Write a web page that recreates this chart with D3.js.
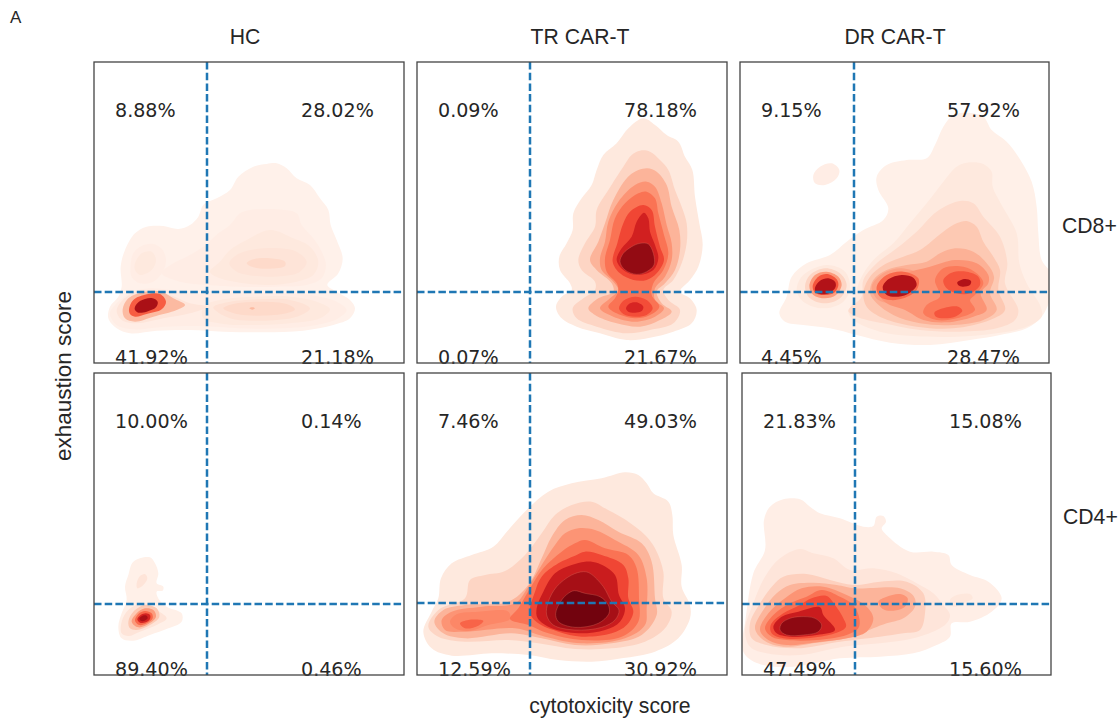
<!DOCTYPE html>
<html>
<head>
<meta charset="utf-8">
<script src="https://cdn.jsdelivr.net/npm/d3@7"></script>
<style>
  html, body { margin: 0; padding: 0; background: #fff; }
  svg { display: block; }
  text { fill: #262626; }
  .pct { font-family: "DejaVu Sans"; font-size: 19.1px; }
  .title { font-family: "Liberation Sans"; font-size: 21.2px; }
</style>
</head>
<body>
<div id="chart"></div>
<script>
const width = 1120;
const height = 721;

const columns = ['HC', 'TR CAR-T', 'DR CAR-T'];
const rows = ['CD8+', 'CD4+'];
const xLabel = 'cytotoxicity score';
const yLabel = 'exhaustion score';

// quadrant percentages: upper left, upper right, lower left, lower right
const hcCd8Pct = ['8.88%', '28.02%', '41.92%', '21.18%'];
const trCd8Pct = ['0.09%', '78.18%', '0.07%', '21.67%'];
const drCd8Pct = ['9.15%', '57.92%', '4.45%', '28.47%'];
const hcCd4Pct = ['10.00%', '0.14%', '89.40%', '0.46%'];
const trCd4Pct = ['7.46%', '49.03%', '12.59%', '30.92%'];
const drCd4Pct = ['21.83%', '15.08%', '47.49%', '15.60%'];

// density outlines: [Reds level, [[score x, score y], ...]]
const hcCd8Density = [
  [.04, [[560,40],[590,55],[620,85],[660,105],[690,145],[715,180],[722,225],[740,270],[758,325],[745,370],[712,405],[740,425],[780,450],[795,475],[780,505],[730,525],[640,542],[520,547],[400,545],[300,540],[200,542],[120,550],[80,535],[55,505],[60,470],[85,440],[95,410],[92,350],[105,300],[135,250],[170,230],[220,228],[265,237],[300,225],[325,200],[340,165],[380,145],[420,120],[445,80],[490,50],[530,42]]],
  [.07, [[450,190],[480,180],[560,178],[620,190],[635,225],[670,265],[695,305],[708,345],[695,385],[650,405],[560,410],[450,410],[350,405],[270,395],[215,370],[250,340],[290,320],[340,290],[385,250],[420,225]]],
  [.07, [[122,345],[130,310],[155,288],[190,282],[218,300],[228,335],[215,370],[190,395],[150,400],[125,380]]],
  [.07, [[60,490],[90,450],[130,425],[180,415],[240,420],[330,432],[450,428],[560,428],[660,435],[740,455],[770,480],[745,505],[680,525],[580,535],[450,535],[330,528],[220,530],[130,538],[80,525]]],
  [.1, [[360,365],[390,335],[420,300],[470,270],[540,240],[610,265],[660,290],[685,335],[670,375],[620,395],[540,405],[450,398],[390,385]]],
  [.1, [[135,340],[155,310],[185,305],[198,330],[185,360],[150,375],[135,360]]],
  [.1, [[340,470],[400,448],[500,440],[600,440],[680,455],[720,478],[690,505],[600,520],[500,525],[400,522],[340,505]]],
  [.12, [[80,480],[110,440],[170,420],[240,435],[300,460],[350,470],[300,490],[220,505],[140,520],[95,510]]],
  [.13, [[418,340],[440,315],[500,297],[570,295],[620,305],[650,335],[630,365],[580,378],[500,378],[440,365]]],
  [.14, [[370,472],[420,455],[510,448],[600,450],[660,475],[620,500],[510,512],[420,505]]],
  [.18, [[470,340],[490,328],[540,325],[585,335],[585,348],[540,356],[490,352]]],
  [.18, [[400,475],[440,460],[520,455],[590,462],[615,478],[590,490],[510,497],[440,492]]],
  [.3, [[478,475],[487,472],[495,475],[487,479]]],
  [.3, [[98,478],[115,445],[165,425],[215,425],[250,445],[285,465],[260,480],[190,500],[135,515],[105,505]]],
  [.58, [[117,478],[130,450],[170,433],[210,432],[228,455],[215,478],[170,492],[135,500],[120,492]]],
  [.87, [[135,470],[150,453],[185,444],[203,455],[198,472],[170,485],[145,488],[135,480]]]
];

const trCd8Density = [
  [.1, [[310,25],[345,45],[380,75],[415,95],[435,140],[457,180],[465,260],[478,340],[488,405],[475,470],[450,510],[420,545],[450,565],[470,600],[455,640],[400,665],[330,683],[260,690],[180,670],[110,650],[65,625],[48,590],[65,560],[95,540],[90,520],[60,480],[58,440],[80,400],[98,360],[100,310],[125,265],[155,225],[170,180],[190,135],[230,100],[265,55]]],
  [.2, [[300,122],[330,125],[360,150],[385,180],[405,240],[425,290],[440,340],[440,400],[425,460],[400,510],[370,540],[385,570],[420,600],[400,640],[330,660],[260,670],[170,650],[110,625],[98,595],[130,565],[165,540],[165,515],[125,480],[115,450],[135,400],[165,350],[170,300],[205,240],[250,170],[275,135]]],
  [.32, [[320,175],[350,185],[380,225],[395,290],[418,360],[420,420],[405,480],[375,520],[350,545],[365,580],[395,605],[360,630],[300,650],[230,640],[165,615],[145,595],[175,565],[220,545],[215,520],[170,480],[150,450],[175,395],[195,340],[220,270],[270,195]]],
  [.42, [[320,215],[345,230],[365,280],[380,345],[395,400],[395,450],[375,500],[345,535],[345,570],[372,595],[345,620],[285,635],[220,620],[180,595],[210,565],[235,540],[220,515],[185,480],[180,445],[195,395],[205,335],[235,275],[285,225]]],
  [.52, [[320,245],[345,265],[355,310],[372,375],[385,430],[370,480],[340,520],[335,555],[358,590],[330,615],[285,625],[230,610],[205,590],[225,565],[235,540],[230,520],[200,485],[195,445],[210,390],[225,325],[255,280],[295,250]]],
  [.62, [[237,595],[250,572],[285,560],[320,570],[338,595],[320,615],[285,620],[250,612]]],
  [.64, [[310,285],[335,300],[345,350],[360,410],[372,450],[350,490],[320,510],[280,510],[240,490],[218,455],[232,400],[250,340],[270,305]]],
  [.74, [[258,595],[270,580],[290,577],[310,590],[305,603],[285,608],[265,605]]],
  [.76, [[312,308],[325,325],[330,365],[345,405],[355,445],[340,480],[290,495],[250,480],[230,450],[245,415],[275,380],[290,335]]],
  [.92, [[300,400],[325,402],[340,430],[342,465],[320,485],[290,493],[255,480],[240,455],[250,430],[275,410]]]
];

const drCd8Density = [
  [.05, [[590,-22],[640,-10],[665,30],[710,65],[745,110],[785,185],[800,260],[805,340],[815,420],[845,460],[860,500],[845,530],[815,590],[770,625],[690,645],[600,660],[480,675],[360,668],[260,645],[180,625],[100,615],[45,605],[28,580],[50,530],[65,470],[110,430],[180,405],[230,365],[280,330],[340,300],[355,265],[325,210],[320,170],[350,135],[410,120],[470,115],[495,75],[520,20],[550,-15]]],
  [.07, [[130,165],[150,140],[185,130],[208,150],[200,175],[165,195],[135,190]]],
  [.1, [[600,127],[640,132],[665,155],[668,200],[695,255],[740,340],[748,430],[770,490],[812,560],[815,590],[770,620],[680,640],[560,650],[430,648],[330,635],[250,600],[235,575],[250,545],[270,480],[310,420],[370,370],[420,310],[470,250],[520,185],[560,140]]],
  [.1, [[80,510],[100,465],[170,435],[225,455],[240,500],[220,545],[160,565],[100,545]]],
  [.17, [[570,243],[610,250],[640,290],[690,350],[712,430],[705,490],[745,570],[735,600],[680,625],[570,635],[450,630],[340,610],[260,590],[235,572],[275,530],[280,480],[320,430],[380,385],[440,335],[500,275]]],
  [.2, [[105,500],[120,465],[165,445],[210,460],[230,495],[210,535],[165,550],[120,535]]],
  [.25, [[590,303],[620,320],[640,365],[670,410],[690,450],[685,510],[705,570],[660,600],[550,625],[440,620],[340,595],[290,560],[280,520],[300,470],[350,430],[400,410],[450,390],[520,335],[560,310]]],
  [.33, [[555,385],[610,395],[650,430],[672,470],[660,520],[680,570],[640,600],[550,615],[450,610],[370,585],[320,550],[300,520],[310,480],[350,450],[410,435],[470,425],[510,400]]],
  [.38, [[305,500],[340,460],[395,445],[450,465],[455,495],[420,530],[370,548],[325,540]]],
  [.4, [[118,498],[135,465],[170,455],[205,470],[215,495],[198,525],[165,535],[130,525]]],
  [.42, [[555,420],[620,430],[655,465],[655,490],[632,520],[650,570],[610,590],[530,607],[460,600],[405,570],[350,550],[330,525],[350,480],[400,460],[480,440]]],
  [.5, [[520,445],[580,440],[620,460],[640,490],[615,525],[600,540],[615,570],[560,595],[500,600],[460,580],[470,555],[510,530],[505,510],[495,480]]],
  [.55, [[320,500],[350,465],[400,455],[445,475],[440,510],[400,535],[360,540],[330,530]]],
  [.6, [[128,498],[145,470],[172,462],[200,478],[205,497],[190,520],[160,525],[135,518]]],
  [.6, [[520,480],[545,458],[590,455],[625,470],[630,495],[600,520],[560,520],[530,505]]],
  [.6, [[493,578],[530,562],[565,560],[577,572],[555,590],[520,595],[498,590]]],
  [.33, [[438,548],[465,525],[490,525],[480,540],[455,553],[440,553]]],
  [.85, [[562,487],[585,477],[603,483],[600,495],[578,500],[565,496]]],
  [.85, [[338,502],[355,478],[395,465],[430,473],[440,495],[420,518],[385,530],[350,525]]],
  [.85, [[135,503],[150,482],[175,475],[195,485],[197,500],[180,518],[150,522],[137,515]]]
];

const hcCd4Density = [
  [.05, [[150,22],[165,40],[175,70],[170,100],[190,110],[188,122],[170,125],[178,150],[200,170],[245,190],[245,215],[205,235],[150,255],[100,272],[65,265],[55,230],[65,190],[80,150],[75,110],[85,75],[100,35]]],
  [.13, [[120,78],[135,72],[142,85],[130,105],[112,115],[110,100]]],
  [.13, [[65,250],[65,215],[85,180],[130,160],[170,180],[200,205],[170,225],[120,245],[85,258]]],
  [.25, [[85,215],[100,185],[135,165],[170,175],[178,200],[150,225],[110,240],[90,235]]],
  [.4, [[95,215],[110,190],[135,175],[160,180],[168,200],[145,222],[115,232]]],
  [.55, [[105,212],[115,192],[135,183],[155,190],[158,205],[140,220],[118,225]]],
  [.75, [[112,208],[122,195],[138,190],[150,195],[150,207],[137,217],[120,218]]],
  [.87, [[118,205],[128,197],[140,197],[143,205],[132,213],[122,212]]]
];

const trCd4Density = [
  [.1, [[630,22],[670,30],[695,55],[715,85],[760,110],[772,150],[775,210],[800,300],[800,365],[825,420],[825,460],[790,520],[720,560],[620,580],[530,590],[430,585],[340,570],[230,565],[110,572],[50,550],[25,500],[50,440],[70,400],[78,340],[110,295],[170,270],[235,245],[280,195],[340,130],[400,80],[470,55],[560,40]]],
  [.2, [[530,110],[570,130],[640,170],[690,210],[720,250],[745,320],[745,400],[770,440],[750,490],[690,530],[590,550],[480,552],[370,535],[280,525],[150,530],[70,515],[40,485],[70,435],[150,400],[165,345],[210,330],[270,318],[330,270],[380,205],[420,150],[470,120]]],
  [.32, [[500,150],[550,165],[610,200],[680,235],[710,290],[720,400],[725,450],[680,510],[590,535],[480,540],[380,520],[290,505],[150,520],[85,505],[58,470],[85,435],[150,420],[280,410],[340,360],[380,280],[410,215],[450,165]]],
  [.42, [[490,190],[540,195],[600,225],[670,270],[695,340],[695,430],[690,480],[630,520],[500,535],[390,515],[300,490],[150,500],[90,495],[80,465],[110,440],[200,425],[300,415],[340,365],[380,300],[420,240],[450,205]]],
  [.46, [[105,470],[125,448],[190,440],[280,440],[285,462],[220,480],[160,498],[120,490]]],
  [.52, [[510,225],[570,250],[640,270],[665,310],[672,400],[670,470],[620,515],[500,525],[400,505],[340,480],[285,462],[310,430],[345,370],[385,310],[440,260],[480,235]]],
  [.56, [[135,475],[160,465],[205,468],[190,482],[150,490]]],
  [.64, [[510,260],[560,270],[625,300],[640,340],[640,400],[655,440],[635,480],[590,505],[500,515],[430,500],[370,475],[345,445],[360,380],[380,335],[430,295],[480,272]]],
  [.78, [[510,290],[550,295],[600,330],[612,390],[630,430],[615,470],[570,495],[490,505],[410,490],[368,460],[365,430],[385,380],[420,325],[470,300]]],
  [.88, [[505,320],[525,325],[565,365],[590,410],[612,435],[600,465],[560,487],[480,495],[415,480],[395,450],[400,410],[425,365],[470,330]]],
  [.98, [[478,377],[510,385],[555,395],[580,420],[582,445],[550,475],[480,487],[430,470],[422,445],[440,405],[460,385]]]
];

const drCd4Density = [
  [.06, [[130,28],[180,28],[210,50],[240,70],[300,85],[370,110],[400,108],[410,80],[430,78],[438,95],[425,115],[445,140],[510,185],[580,185],[625,195],[635,225],[690,255],[745,275],[785,325],[755,365],[690,395],[635,400],[630,440],[590,465],[520,490],[420,500],[300,505],[160,530],[70,525],[20,500],[6,470],[15,400],[40,250],[75,180],[72,90],[90,50]]],
  [.12, [[180,177],[220,190],[280,205],[330,240],[400,235],[470,250],[530,280],[580,310],[610,345],[630,375],[620,400],[590,420],[520,445],[420,460],[310,470],[180,495],[80,490],[30,470],[15,420],[40,340],[75,260],[120,205]]],
  [.11, [[630,330],[650,315],[690,312],[698,325],[670,340],[640,350]]],
  [.22, [[130,260],[200,252],[270,270],[340,285],[420,275],[500,275],[550,310],[555,370],[540,420],[490,430],[420,440],[300,455],[170,475],[80,465],[35,445],[30,400],[60,340],[100,285]]],
  [.32, [[150,285],[220,278],[290,285],[345,295],[480,295],[522,320],[525,350],[490,385],[440,400],[400,415],[340,440],[230,458],[130,470],[70,450],[45,415],[70,360],[110,310]]],
  [.42, [[185,295],[250,290],[320,315],[380,350],[400,385],[380,425],[320,445],[220,458],[140,465],[85,450],[60,420],[85,370],[135,325]]],
  [.42, [[415,335],[440,320],[480,312],[503,325],[495,350],[460,362],[430,358]]],
  [.52, [[200,320],[245,300],[300,320],[340,345],[358,385],[355,415],[320,435],[230,450],[140,450],[95,440],[75,415],[100,375],[150,340]]],
  [.62, [[215,325],[260,318],[285,345],[310,385],[318,410],[285,430],[200,445],[130,445],[95,430],[92,405],[130,370],[180,345]]],
  [.78, [[240,352],[250,375],[285,420],[230,435],[150,440],[110,430],[100,410],[125,380],[175,365]]],
  [.93, [[180,380],[225,385],[245,405],[235,425],[190,435],[140,435],[120,420],[125,400],[150,385]]]
];

// layout of each panel: frame, where the quadrant lines sit, the score window
const panels = [
  { density: hcCd8Density, pct: hcCd8Pct, frame: [94, 62, 404, 363], cross: [207, 292], win: [90, 150, 320, 220] },
  { density: trCd8Density, pct: trCd8Pct, frame: [417, 62, 727, 363], cross: [530, 292], win: [540, 110, 180, 240] },
  { density: drCd8Density, pct: drCd8Pct, frame: [740, 62, 1049, 363], cross: [854, 292], win: [770, 120, 285, 230] },
  { density: hcCd4Density, pct: hcCd4Pct, frame: [94, 373, 404, 675], cross: [207, 604], win: [100, 550, 100, 100] },
  { density: trCd4Density, pct: trCd4Pct, frame: [417, 373, 727, 675], cross: [530, 603], win: [415, 465, 290, 210] },
  { density: drCd4Density, pct: drCd4Pct, frame: [742, 373, 1051, 675], cross: [855, 604], win: [740, 490, 260, 185] }
];

const svg = d3.select('#chart')
  .append('svg')
  .attr('width', width)
  .attr('height', height);

const defs = svg.append('defs');

const outline = d3.line().curve(d3.curveCatmullRomClosed.alpha(0.5));

// Reds, with the pale end stretched a little
const levelColor = d3.scalePow().exponent(1.15).domain([0, 1]).range([0, 1]);

panels.forEach((p, i) => {
  const [x0, y0, x1, y1] = p.frame;
  const [wx, wy, ww, wh] = p.win;

  const x = d3.scaleLinear().domain([0, ww * 3]).range([wx, wx + ww]);
  const y = d3.scaleLinear().domain([0, wh * 3]).range([wy, wy + wh]);

  defs.append('clipPath')
    .attr('id', `clip-${i}`)
    .append('rect')
    .attr('x', x0)
    .attr('y', y0)
    .attr('width', x1 - x0)
    .attr('height', y1 - y0);

  const g = svg.append('g');

  // Filled density levels, light to dark
  g.append('g')
    .attr('clip-path', `url(#clip-${i})`)
    .selectAll('path')
    .data(p.density.slice().sort((a, b) => d3.ascending(a[0], b[0])))
    .join('path')
    .attr('fill', d => d3.interpolateReds(levelColor(d[0])))
    .attr('stroke', d => d[0] >= 0.88 ? '#d9705f' : 'none')
    .attr('stroke-width', 0.5)
    .attr('stroke-opacity', 0.7)
    .attr('d', d => outline(d[1].map(q => [x(q[0]), y(q[1])])));

  // Quadrant lines
  g.append('line')
    .attr('x1', p.cross[0]).attr('x2', p.cross[0])
    .attr('y1', y0).attr('y2', y1)
    .attr('stroke', '#1f77b4')
    .attr('stroke-width', 2.5)
    .attr('stroke-dasharray', '7.5,3.2');

  g.append('line')
    .attr('x1', x0).attr('x2', x1)
    .attr('y1', p.cross[1]).attr('y2', p.cross[1])
    .attr('stroke', '#1f77b4')
    .attr('stroke-width', 2.5)
    .attr('stroke-dasharray', '7.5,3.2');

  // Percent labels
  const leftX = x0 + 21;
  const rightX = x0 + 207;
  const topY = y0 + 55;
  const bottomY = y1 + 0.5;
  const spots = [[leftX, topY], [rightX, topY], [leftX, bottomY], [rightX, bottomY]];
  g.selectAll('text.pct')
    .data(p.pct)
    .join('text')
    .attr('class', 'pct')
    .attr('x', (d, j) => spots[j][0])
    .attr('y', (d, j) => spots[j][1])
    .text(d => d);

  g.append('rect')
    .attr('x', x0)
    .attr('y', y0)
    .attr('width', x1 - x0)
    .attr('height', y1 - y0)
    .attr('fill', 'none')
    .attr('stroke', '#444')
    .attr('stroke-width', 1.3);
});

// Column and row titles
const columnCenters = [245, 580, 895];
svg.selectAll('text.col')
  .data(columns)
  .join('text')
  .attr('class', 'title col')
  .attr('x', (d, i) => columnCenters[i])
  .attr('y', 44)
  .attr('text-anchor', 'middle')
  .text(d => d);

const rowSpots = [[1062, 233], [1063, 524]];
svg.selectAll('text.rowname')
  .data(rows)
  .join('text')
  .attr('class', 'title rowname')
  .attr('x', (d, i) => rowSpots[i][0])
  .attr('y', (d, i) => rowSpots[i][1])
  .text(d => d);

svg.append('text')
  .attr('class', 'title')
  .attr('x', 610)
  .attr('y', 713)
  .attr('text-anchor', 'middle')
  .text(xLabel);

svg.append('text')
  .attr('class', 'title')
  .attr('transform', 'translate(71,376) rotate(-90)')
  .attr('text-anchor', 'middle')
  .style('font-size', '22.5px')
  .text(yLabel);

svg.append('text')
  .attr('x', 10)
  .attr('y', 23)
  .style('font-family', '"Liberation Sans"')
  .style('font-size', '17px')
  .text('A');
</script>
</body>
</html>
